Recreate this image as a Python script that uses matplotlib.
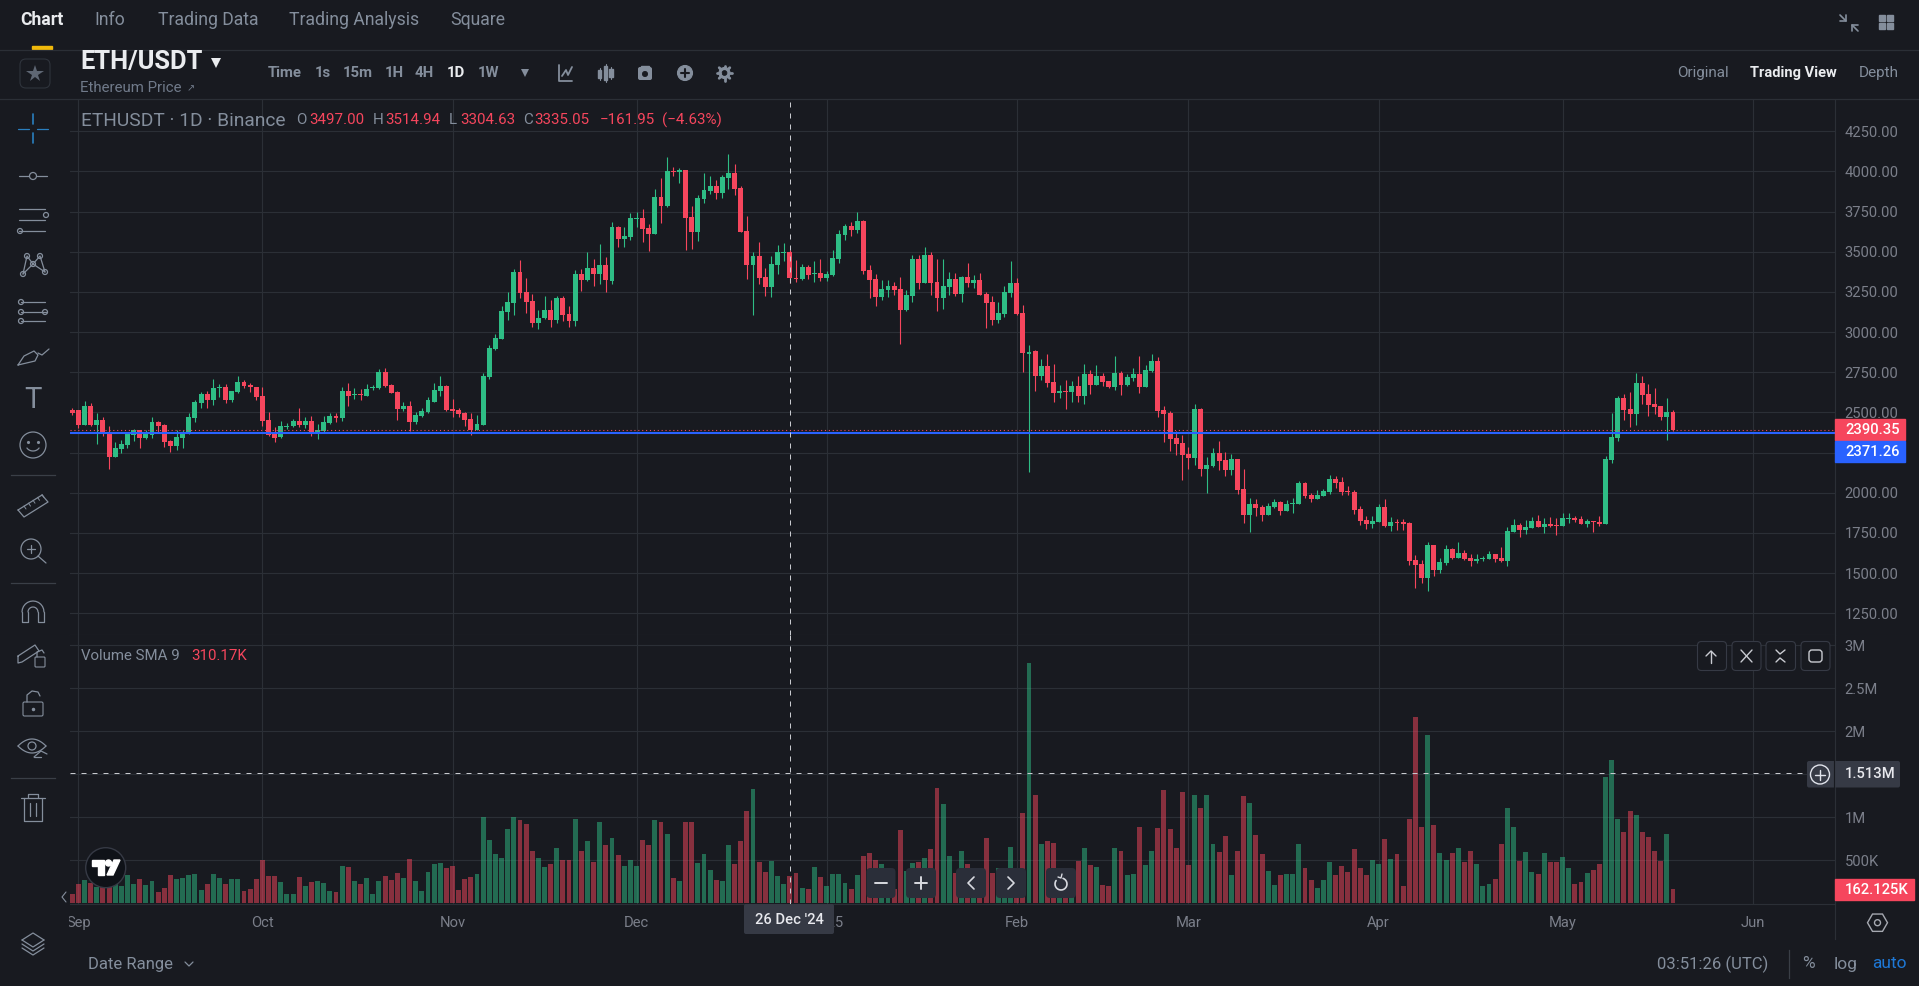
#!/usr/bin/env python3
"""ETH/USDT daily candles with volume, dark exchange chart layout."""

import matplotlib

matplotlib.use("Agg")

import matplotlib.dates as mdates
import matplotlib.patches as mpatches
import matplotlib.pyplot as plt
import numpy as np
import pandas as pd
from matplotlib.transforms import Bbox

plt.rcParams["font.family"] = ["Roboto", "DejaVu Sans"]

BG = "#181A20"
GRID = "#2B2F36"
GREY = "#848E9C"
AXIS_GREY = "#7B7F8A"
UP = "#2EBD85"
DOWN = "#F6465D"
BLUE = "#2962FF"
W, H = 1919, 986

first_day = "2024-08-31"

opens = [
    2514, 2515, 2421, 2540, 2421, 2452, 2369, 2223, 2273, 2298,
    2360, 2389, 2340, 2360, 2440, 2421, 2321, 2290, 2340, 2373,
    2467, 2560, 2614, 2577, 2654, 2658, 2577, 2629, 2691, 2673,
    2660, 2604, 2452, 2364, 2348, 2410, 2413, 2444, 2421, 2444,
    2364, 2385, 2436, 2477, 2465, 2633, 2608, 2612, 2604, 2650,
    2650, 2755, 2670, 2629, 2519, 2540, 2438, 2481, 2506, 2567,
    2633, 2664, 2521, 2515, 2498, 2458, 2394, 2421, 2719, 2894,
    2956, 3125, 3181, 3372, 3248, 3192, 3056, 3087, 3135, 3073,
    3210, 3110, 3067, 3360, 3323, 3398, 3360, 3417, 3321, 3652,
    3577, 3590, 3705, 3709, 3646, 3609,
    3840, 3785, 4005, 3998, 4008, 3715, 3622, 3828, 3880, 3909,
    3865, 3961, 3990, 3896, 3628, 3416, 3472, 3341, 3279, 3420,
    3493, 3497, 3335, 3330, 3403, 3364, 3368, 3335, 3354, 3454,
    3604, 3660, 3635, 3691, 3385, 3328, 3216, 3260, 3285, 3266,
    3135, 3223, 3454, 3304, 3479, 3310, 3210, 3279, 3329, 3235,
    3341, 3304, 3322, 3235, 3185, 3073, 3111, 3242, 3304, 3117,
    2867, 2880, 2727, 2789, 2690, 2623, 2634, 2627, 2665, 2602,
    2740, 2671, 2727, 2696, 2658, 2746, 2671, 2717, 2740, 2658,
    2759, 2823, 2515, 2496, 2340, 2308, 2240, 2214, 2521, 2146,
    2165, 2246, 2202, 2140, 2208,
    2021, 1860, 1928, 1910, 1860, 1910, 1941, 1885, 1930, 1930,
    2060, 1985, 1960, 1979, 2004, 2085, 2066, 2010, 2004, 1898,
    1829, 1804, 1817, 1910, 1792, 1819, 1817, 1811, 1580, 1555,
    1468, 1674, 1518, 1562, 1648, 1593, 1624, 1593, 1574, 1587,
    1587, 1618, 1593, 1574, 1755, 1798, 1767, 1780, 1823, 1786,
    1804, 1800, 1792, 1836, 1842, 1836, 1804, 1823, 1817, 1809,
    2204, 2340, 2590, 2521, 2490, 2683, 2615, 2552, 2540, 2471,
    2503,
]
highs = [
    2529, 2515, 2571, 2560, 2494, 2471, 2415, 2315, 2327, 2381,
    2400, 2394, 2394, 2471, 2448, 2427, 2327, 2394, 2390, 2498,
    2577, 2627, 2635, 2706, 2677, 2675, 2635, 2727, 2702, 2685,
    2660, 2660, 2500, 2410, 2444, 2436, 2458, 2525, 2469, 2477,
    2427, 2477, 2494, 2498, 2658, 2685, 2650, 2645, 2675, 2671,
    2768, 2775, 2677, 2633, 2565, 2571, 2506, 2525, 2598, 2683,
    2725, 2670, 2587, 2529, 2506, 2494, 2483, 2744, 2917, 2987,
    3160, 3248, 3390, 3447, 3337, 3240, 3135, 3223, 3198, 3227,
    3223, 3160, 3389, 3395, 3498, 3456, 3546, 3469, 3688, 3663,
    3652, 3740, 3750, 3765, 3671, 3890,
    3958, 4090, 4030, 4021, 4008, 3784, 3853, 3990, 3971, 3950,
    3978, 4109, 4046, 3909, 3722, 3500, 3560, 3401, 3472, 3541,
    3553, 3514, 3447, 3426, 3416, 3441, 3454, 3379, 3510, 3635,
    3672, 3684, 3747, 3697, 3416, 3360, 3322, 3322, 3310, 3341,
    3260, 3479, 3479, 3529, 3497, 3454, 3454, 3373, 3366, 3347,
    3429, 3354, 3366, 3252, 3223, 3185, 3285, 3441, 3335, 3167,
    2923, 2892, 2833, 2864, 2802, 2671, 2702, 2696, 2727, 2802,
    2765, 2796, 2746, 2696, 2852, 2758, 2740, 2777, 2852, 2796,
    2864, 2846, 2540, 2509, 2383, 2359, 2283, 2552, 2527, 2221,
    2277, 2321, 2252, 2240, 2212,
    2150, 1966, 1959, 1922, 1935, 1959, 1948, 1954, 1966, 2072,
    2066, 1998, 2017, 2023, 2110, 2104, 2097, 2042, 2017, 1917,
    1854, 1854, 1929, 1960, 1848, 1840, 1836, 1817, 1611, 1580,
    1693, 1674, 1593, 1674, 1654, 1693, 1643, 1618, 1618, 1605,
    1637, 1622, 1661, 1785, 1836, 1811, 1829, 1848, 1860, 1842,
    1848, 1842, 1873, 1873, 1854, 1854, 1836, 1823, 1854, 2229,
    2496, 2602, 2615, 2627, 2746, 2727, 2677, 2652, 2540, 2590,
    2515,
]
lows = [
    2487, 2404, 2421, 2415, 2306, 2356, 2151, 2223, 2248, 2279,
    2323, 2277, 2332, 2340, 2377, 2286, 2252, 2265, 2277, 2369,
    2442, 2531, 2529, 2548, 2598, 2560, 2566, 2623, 2650, 2625,
    2580, 2415, 2354, 2315, 2340, 2398, 2408, 2408, 2402, 2352,
    2335, 2379, 2431, 2440, 2448, 2540, 2585, 2577, 2604, 2637,
    2648, 2656, 2619, 2452, 2508, 2387, 2431, 2469, 2494, 2565,
    2604, 2510, 2473, 2473, 2415, 2360, 2390, 2421, 2706, 2892,
    2956, 3075, 3104, 3210, 3119, 3029, 3019, 3079, 3035, 3056,
    3069, 3032, 3036, 3258, 3317, 3285, 3300, 3248, 3302, 3533,
    3533, 3571, 3655, 3560, 3504, 3609,
    3680, 3780, 3971, 3929, 3510, 3515, 3566, 3805, 3859, 3828,
    3834, 3888, 3853, 3622, 3329, 3104, 3297, 3223, 3217, 3360,
    3441, 3304, 3310, 3322, 3329, 3310, 3316, 3316, 3352, 3429,
    3572, 3597, 3616, 3360, 3210, 3160, 3198, 3217, 3229, 2924,
    3129, 3185, 3267, 3304, 3229, 3129, 3142, 3229, 3223, 3185,
    3279, 3272, 3229, 3023, 3042, 3056, 3092, 3217, 3104, 2750,
    2129, 2634, 2702, 2658, 2565, 2590, 2521, 2565, 2565, 2552,
    2615, 2671, 2665, 2652, 2640, 2609, 2665, 2696, 2621, 2658,
    2752, 2473, 2315, 2258, 2233, 2077, 2146, 2171, 2102, 2000,
    2158, 2140, 2102, 2108, 1990,
    1811, 1755, 1854, 1823, 1860, 1904, 1860, 1885, 1873, 1930,
    1966, 1941, 1960, 1979, 1992, 2029, 1985, 1985, 1867, 1798,
    1773, 1779, 1817, 1786, 1761, 1767, 1767, 1549, 1405, 1440,
    1390, 1480, 1503, 1549, 1587, 1593, 1580, 1543, 1562, 1574,
    1587, 1568, 1568, 1543, 1755, 1723, 1742, 1780, 1786, 1748,
    1786, 1736, 1792, 1811, 1817, 1804, 1786, 1755, 1792, 1809,
    2185, 2322, 2453, 2409, 2422, 2552, 2478, 2490, 2453, 2328,
    2384,
]
closes = [
    2497, 2421, 2540, 2421, 2452, 2369, 2223, 2277, 2302, 2364,
    2389, 2340, 2364, 2440, 2415, 2317, 2290, 2348, 2377, 2471,
    2565, 2614, 2577, 2652, 2660, 2577, 2633, 2691, 2666, 2656,
    2598, 2448, 2360, 2344, 2415, 2418, 2444, 2421, 2444, 2364,
    2389, 2440, 2477, 2467, 2633, 2604, 2612, 2606, 2646, 2658,
    2755, 2664, 2621, 2521, 2540, 2440, 2483, 2510, 2575, 2642,
    2664, 2515, 2508, 2490, 2452, 2394, 2427, 2727, 2900, 2962,
    3130, 3185, 3372, 3244, 3188, 3056, 3090, 3135, 3073, 3210,
    3106, 3067, 3360, 3323, 3398, 3360, 3417, 3323, 3652, 3577,
    3598, 3709, 3709, 3640, 3609, 3840,
    3785, 4002, 3998, 4008, 3709, 3622, 3834, 3884, 3909, 3865,
    3965, 3990, 3890, 3622, 3416, 3472, 3335, 3279, 3422, 3497,
    3499, 3335, 3330, 3403, 3354, 3368, 3335, 3360, 3460, 3610,
    3660, 3635, 3691, 3379, 3322, 3216, 3266, 3285, 3260, 3135,
    3229, 3454, 3304, 3479, 3304, 3210, 3285, 3329, 3235, 3341,
    3304, 3322, 3229, 3179, 3073, 3117, 3248, 3304, 3111, 2868,
    2879, 2727, 2789, 2683, 2621, 2634, 2627, 2665, 2602, 2740,
    2671, 2727, 2690, 2658, 2746, 2671, 2721, 2740, 2658, 2765,
    2823, 2509, 2490, 2334, 2302, 2233, 2214, 2521, 2146, 2171,
    2246, 2196, 2140, 2208, 2015,
    1860, 1928, 1904, 1860, 1916, 1941, 1885, 1928, 1936, 2060,
    1979, 1960, 1985, 2010, 2085, 2060, 2004, 2004, 1892, 1823,
    1804, 1823, 1910, 1792, 1817, 1811, 1804, 1574, 1549, 1468,
    1674, 1518, 1568, 1648, 1593, 1624, 1587, 1574, 1587, 1593,
    1618, 1587, 1574, 1760, 1798, 1767, 1786, 1823, 1786, 1804,
    1796, 1794, 1842, 1842, 1829, 1804, 1823, 1817, 1809, 2210,
    2347, 2590, 2515, 2490, 2683, 2608, 2546, 2534, 2471, 2503,
    2390,
]
volumes_k = [
    109, 225, 271, 233, 194, 260, 194, 270, 202, 329,
    225, 283, 213, 260, 132, 178, 329, 283, 295, 329,
    341, 155, 225, 341, 295, 225, 283, 283, 143, 167,
    283, 504, 318, 318, 248, 109, 109, 306, 202, 248,
    260, 236, 143, 132, 434, 422, 260, 225, 295, 109,
    260, 318, 271, 353, 295, 516, 260, 143, 364, 457,
    469, 411, 434, 155, 283, 306, 341, 1000, 736, 574,
    527, 864, 1000, 969, 922, 609, 527, 422, 457, 643,
    504, 504, 981, 609, 725, 481, 946, 678, 760, 562,
    434, 504, 434, 736, 678, 969, 946, 806, 295, 260,
    946, 946, 469, 574, 388, 271, 260, 678, 457, 725,
    1074, 1329, 481, 364, 492, 318, 225, 318, 353, 178,
    167, 422, 306, 202, 341, 341, 236, 167, 329, 550,
    585, 504, 457, 155, 167, 853, 376, 469, 481, 527,
    632, 1341, 1155, 550, 353, 609, 457, 310, 349, 760,
    353, 411, 310, 655, 349, 1050, 2800, 1260, 690, 725,
    702, 271, 194, 233, 492, 643, 446, 422, 213, 202,
    643, 609, 329, 341, 888, 446, 609, 876, 1318, 864,
    643, 1295, 446, 1260, 1109, 1260, 690, 597, 783, 329,
    609, 1248, 1167, 795, 574, 376, 213, 329, 341, 341,
    690, 411, 271, 178, 271, 481, 329, 434, 364, 632,
    411, 329, 504, 457, 748, 516, 574, 202, 981, 2167,
    888, 1957, 911, 585, 504, 585, 643, 481, 609, 457,
    202, 225, 283, 690, 1109, 888, 492, 597, 364, 341,
    585, 481, 481, 539, 411, 225, 248, 353, 388, 457,
    1469, 1667, 981, 829, 1074, 1027, 829, 771, 609, 492,
    806, 162,
]

price_ticks = [1250, 1500, 1750, 2000, 2250, 2500, 2750, 3000, 3250, 3500, 3750, 4000, 4250]
volume_ticks = [500, 1000, 1500, 2000, 2500, 3000]
# the 1.5M label sits behind the crosshair tag in this view
volume_tick_labels = ["500K", "1M", "", "2M", "2.5M", "3M"]
month_days = ["2024-09-01", "2024-10-01", "2024-11-01", "2024-12-01", "2025-01-01",
              "2025-02-01", "2025-03-01", "2025-04-01", "2025-05-01", "2025-06-01"]
month_labels = ["Sep", "Oct", "Nov", "Dec", "2025", "Feb", "Mar", "Apr", "May", "Jun"]

last_price = 2390.35
open_price_line = 2371.26
crosshair_day = "2024-12-26"
crosshair_volume_k = 1513
last_volume_label = "162.125K"


def pane_axes(fig, top, bottom):
    ax = fig.add_axes([70 / W, 1 - bottom / H, (1835 - 70) / W, (bottom - top) / H])
    ax.set_facecolor(BG)
    for side, spine in ax.spines.items():
        spine.set_visible(side in ("right", "bottom"))
        spine.set_color(GRID)
        spine.set_linewidth(0.8)
    ax.yaxis.tick_right()
    ax.tick_params(axis="y", length=0, pad=7, labelcolor=AXIS_GREY, labelsize=10.6)
    ax.tick_params(axis="x", length=0, pad=8.5, labelcolor=AXIS_GREY, labelsize=10.6)
    ax.grid(True, color=GRID, linewidth=0.8)
    ax.set_axisbelow(True)
    return ax


def label(ui, x, y, text, color=GREY, size=10.0, weight="normal", ha="left"):
    return ui.text(x, y, text, color=color, fontsize=size, fontweight=weight, ha=ha, va="center")


def stroke(ui, xs, ys, color="#848E9C", lw=0.9):
    ui.plot(xs, ys, color=color, lw=lw, solid_capstyle="round", solid_joinstyle="round")


def ring(ui, x, y, r, color="#848E9C", lw=0.9, fill="none"):
    ui.add_patch(mpatches.Circle((x, y), r, facecolor=fill, edgecolor=color, lw=lw))


def rounded(ui, x0, y0, x1, y1, face, edge="none", lw=0.8, radius=4):
    ui.add_patch(mpatches.FancyBboxPatch(
        (x0 + radius, y0 + radius), x1 - x0 - 2 * radius, y1 - y0 - 2 * radius,
        boxstyle=f"round,pad={radius},rounding_size={radius}", facecolor=face, edgecolor=edge, lw=lw))


def draw_toolbar(ui):
    cx = 33
    stroke(ui, [cx - 15, cx - 4], [128.5, 128.5], "#2A7FBF")
    stroke(ui, [cx + 4, cx + 15], [128.5, 128.5], "#2A7FBF")
    stroke(ui, [cx, cx], [114, 124], "#2A7FBF", 1.2)
    stroke(ui, [cx, cx], [133, 143], "#2A7FBF", 1.2)

    stroke(ui, [cx - 14, cx - 4], [176, 176])
    stroke(ui, [cx + 4, cx + 14], [176, 176])
    ring(ui, cx, 176, 3.5)

    for yy in (209, 220, 231):
        stroke(ui, [cx - 14, cx + 12], [yy, yy])
    ring(ui, cx + 13, 215, 2.5, fill=BG)
    ring(ui, cx - 13, 231, 2.5, fill=BG)

    stroke(ui, [cx - 10, cx - 6, cx, cx + 7, cx + 12], [274, 256, 264, 256, 272])
    stroke(ui, [cx - 10, cx, cx + 12], [274, 264, 272])
    for px, py in ((-10, 274), (-6, 256), (0, 264), (7, 256), (12, 272)):
        ring(ui, cx + px, py, 2.5, fill=BG)

    for yy, x_left, x_right in ((302, -12, 12), (312, -12, 14), (321, -12, 12)):
        stroke(ui, [cx + x_left, cx + x_right], [yy, yy])
        ring(ui, cx + x_left, yy, 2.5, fill=BG)
    ring(ui, cx + 12, 312, 2.5, fill=BG)

    stroke(ui, [cx - 15, cx - 9, cx + 1, cx + 5, cx + 2, cx - 15], [365, 356, 351, 355, 361, 365])
    stroke(ui, [cx + 5, cx + 9, cx + 16], [353, 355, 349])

    label(ui, cx, 400, "T", "#848E9C", 21, ha="center")

    ring(ui, cx, 445, 13)
    ui.plot([cx - 5, cx + 5], [442, 442], ".", color="#848E9C", ms=2.5)
    angle = np.radians(np.arange(30, 151, 10))
    stroke(ui, cx + 7 * np.cos(angle), 445 + 6 * np.sin(angle))

    stroke(ui, [cx - 15, cx + 9, cx + 15, cx - 9, cx - 15], [510, 495, 502, 517, 510])
    for step in range(5):
        x0 = cx - 9 + step * 4.5
        y0 = 506 - step * 2.9
        stroke(ui, [x0, x0 + 2], [y0, y0 + 3], lw=0.7)

    ring(ui, cx - 2, 549, 10)
    stroke(ui, [cx + 5, cx + 13], [556, 563])
    stroke(ui, [cx - 6, cx + 2], [549, 549])
    stroke(ui, [cx - 2, cx - 2], [545, 553])

    arc = np.radians(np.arange(180, 361, 15))
    stroke(ui, cx + 11 * np.cos(arc), 612 + 11 * np.sin(arc))
    stroke(ui, cx + 5 * np.cos(arc), 612 + 5 * np.sin(arc))
    stroke(ui, [cx - 11, cx - 11, cx - 5, cx - 5], [612, 622, 622, 612])
    stroke(ui, [cx + 11, cx + 11, cx + 5, cx + 5], [612, 622, 622, 612])

    stroke(ui, [cx - 15, cx + 2, cx + 6, cx - 11, cx - 15, cx - 15], [656, 645, 651, 662, 663, 656])
    rounded(ui, cx + 2, 657, cx + 12, 667, "none", "#848E9C", radius=1)
    stroke(ui, [cx + 4, cx + 4, cx + 9, cx + 11], [657, 652, 650, 653])

    rounded(ui, cx - 10, 702, cx + 10, 716, "none", "#848E9C", radius=1.5)
    ui.plot([cx], [709], ".", color="#848E9C", ms=3)
    stroke(ui, [cx - 6, cx - 6, cx - 1, cx + 5, cx + 7], [702, 695, 691, 692, 696])

    eye = np.linspace(-1, 1, 21)
    stroke(ui, cx - 1 + 14 * eye, 746 - 7 * (1 - eye ** 2))
    stroke(ui, cx - 1 + 14 * eye, 746 + 7 * (1 - eye ** 2))
    ring(ui, cx - 1, 746, 4)
    stroke(ui, [cx + 1, cx + 8, cx + 14], [757, 751, 754])
    stroke(ui, [cx + 1, cx + 8], [757, 757])

    stroke(ui, [cx - 12, cx + 12], [798, 798])
    stroke(ui, [cx - 5, cx - 5, cx + 5, cx + 5], [798, 794, 794, 798])
    stroke(ui, [cx - 9, cx - 9, cx + 9, cx + 9], [798, 821, 821, 798])
    stroke(ui, [cx - 3, cx - 3], [803, 816])
    stroke(ui, [cx + 3, cx + 3], [803, 816])

    for yy in (475, 583, 778):
        ui.plot([11, 55], [yy, yy], color="#3A3F47", lw=0.9)

    stroke(ui, [66, 62, 66], [892, 897, 902], lw=0.8)
    for yy in (940, 944, 948):
        stroke(ui, [cx - 11, cx, cx + 11], [yy, yy + 7, yy])
    stroke(ui, [cx - 11, cx, cx + 11], [940, 933, 940])


def draw_header(ui):
    ui.plot([0, W], [49.7, 49.7], color=GRID, lw=0.9)
    ui.plot([0, W], [99, 99], color=GRID, lw=0.9)
    ui.add_patch(mpatches.Rectangle((32, 46), 20, 3, color="#F0B90B"))

    label(ui, 20, 20, "Chart", "#EAECEF", 12.7, "bold")
    for x, text in ((94, "Info"), (158, "Trading Data"), (289, "Trading Analysis"), (450, "Square")):
        label(ui, x, 20, text, GREY, 12.7)

    rounded(ui, 20, 59, 50, 88, "none", "#2F343C", radius=6)
    ui.plot([35], [73.5], marker="*", ms=13, color="#5E6673", mew=0)

    label(ui, 80, 62, "ETH/USDT", "#EAECEF", 18.4, "bold")
    ui.plot([216], [63], marker="v", ms=7, color="#EAECEF", mew=0)
    label(ui, 80.5, 88, "Ethereum Price", "#707A8A", 10.8)
    label(ui, 187, 88, "↗", "#707A8A", 7)

    for x, text, color in ((268, "Time", GREY), (315, "1s", GREY), (343, "15m", GREY), (385, "1H", GREY),
                           (415, "4H", GREY), (447, "1D", "#EAECEF"), (478, "1W", GREY)):
        label(ui, x, 73, text, color, 10.7, "bold")
    ui.plot([525], [73], marker="v", ms=6, color=GREY, mew=0)

    stroke(ui, [559, 559, 572], [65, 81, 81], GREY, 1.3)
    stroke(ui, [562, 566, 568, 572], [76, 70, 75, 67], GREY, 1.3)
    for x, y0, y1 in ((599.5, 70, 78), (605.5, 66, 80), (611, 69, 77)):
        ui.add_patch(mpatches.Rectangle((x - 1.8, y0), 3.6, y1 - y0, color=GREY))
        stroke(ui, [x, x], [y0 - 2, y1 + 2], GREY, 0.8)
    rounded(ui, 638, 67, 652, 80, GREY, radius=2)
    ui.add_patch(mpatches.Rectangle((641, 65.5), 8, 3, color=GREY))
    ring(ui, 645, 74, 2.6, BG, 0.6, BG)
    ring(ui, 685, 73, 7.5, GREY, 0.8, GREY)
    stroke(ui, [681, 689], [73, 73], BG, 1.5)
    stroke(ui, [685, 685], [69, 77], BG, 1.5)
    ring(ui, 724.5, 73, 5.5, GREY, 0.8, GREY)
    for tooth in np.radians(np.arange(0, 360, 45)):
        stroke(ui, [724.5 + 5 * np.cos(tooth), 724.5 + 7.5 * np.cos(tooth)],
               [73 + 5 * np.sin(tooth), 73 + 7.5 * np.sin(tooth)], GREY, 2)
    ring(ui, 724.5, 73, 2.4, BG, 0.6, BG)

    label(ui, 1677, 73, "Original", GREY, 11)
    label(ui, 1750, 73, "Trading View", "#EAECEF", 10.5, "bold")
    label(ui, 1859, 73, "Depth", GREY, 11)

    stroke(ui, [1840, 1846, 1846], [21, 21, 15], GREY, 1.2)
    stroke(ui, [1846, 1840], [21, 15], GREY, 1.2)
    stroke(ui, [1852, 1852, 1858], [31, 25, 25], GREY, 1.2)
    stroke(ui, [1852, 1858], [25, 31], GREY, 1.2)
    for x, y in ((1879, 15), (1887, 15), (1879, 23), (1887, 23)):
        ui.add_patch(mpatches.Rectangle((x, y), 6, 6, color=GREY))


def draw_chart_overlay(ui):
    # Legend line above the candles
    label(ui, 81, 120.5, "ETHUSDT · 1D · Binance", GREY, 13.8)
    for x, text, color in ((296, "O", GREY), (309, "3497.00", DOWN), (373, "H", GREY), (385, "3514.94", DOWN),
                           (449, "L", GREY), (460, "3304.63", DOWN), (523, "C", GREY), (534, "3335.05", DOWN),
                           (600, "−161.95", DOWN), (662, "(−4.63%)", DOWN)):
        label(ui, x, 120.5, text, color, 10.9)
    label(ui, 81, 656, "Volume SMA 9", GREY, 10.8)
    label(ui, 191, 656, "310.17K", DOWN, 10.8)

    # Price tags
    ui.add_patch(mpatches.Rectangle((1835, 419), 70, 21, color=DOWN))
    label(ui, 1845, 429.5, "2390.35", "#FFFFFF", 10.6, "medium")
    ui.add_patch(mpatches.Rectangle((1835, 441), 70, 21, color=BLUE))
    label(ui, 1845, 451.5, "2371.26", "#FFFFFF", 10.6, "medium")

    ui.add_patch(mpatches.Rectangle((1835, 879), 79, 21, color=DOWN))
    label(ui, 1845, 889.5, last_volume_label, "#FFFFFF", 10.6, "medium")

    # Crosshair tags
    rounded(ui, 1807, 761, 1900, 787.5, "#363A45", radius=2)
    ring(ui, 1820, 774.5, 9.5, "#E0E3EB", 1.0)
    stroke(ui, [1815, 1825], [774.5, 774.5], "#E0E3EB", 1)
    stroke(ui, [1820, 1820], [769.5, 779.5], "#E0E3EB", 1)
    ui.plot([1834, 1834], [761, 787.5], color=BG, lw=0.8)
    label(ui, 1845, 774.5, "1.513M", "#E8E9EE", 10.6, "medium")

    rounded(ui, 744, 904, 834, 934, "#363A45", radius=2)
    label(ui, 789, 919.5, "26 Dec '24", "#E8E9EE", 10.6, "medium", ha="center")

    # Pane buttons
    for x0, x1 in ((1697.5, 1726.5), (1732, 1761), (1766, 1795.5), (1801, 1830)):
        rounded(ui, x0, 641.5, x1, 670.5, BG, "#363A45", radius=4)
    stroke(ui, [1711, 1711], [663, 651], "#C9CBD1", 1)
    stroke(ui, [1706, 1711, 1716], [656, 651, 656], "#C9CBD1", 1)
    stroke(ui, [1741, 1752], [650, 662], "#C9CBD1", 1)
    stroke(ui, [1752, 1741], [650, 662], "#C9CBD1", 1)
    stroke(ui, [1776, 1780, 1785], [650, 654, 650], "#C9CBD1", 1)
    stroke(ui, [1776, 1780, 1785], [662, 658, 662], "#C9CBD1", 1)
    rounded(ui, 1809, 650, 1822, 662, "none", "#C9CBD1", lw=1, radius=3)

    # Zoom and pan buttons over the volume bars
    for x0, x1 in ((866.5, 895.5), (906, 936), (956, 986), (996, 1026), (1046, 1076)):
        rounded(ui, x0, 868, x1, 898, "#2A2E39", radius=4)
    stroke(ui, [875, 887], [883, 883], "#D8DAE0", 1.4)
    stroke(ui, [915, 927], [883, 883], "#D8DAE0", 1.4)
    stroke(ui, [921, 921], [877, 889], "#D8DAE0", 1.4)
    stroke(ui, [974, 968, 974], [877, 883, 889], "#D8DAE0", 1.2)
    stroke(ui, [1008, 1014, 1008], [877, 883, 889], "#D8DAE0", 1.2)
    turn = np.radians(np.arange(-70, 221, 15))
    stroke(ui, 1061 + 6 * np.cos(turn), 884 + 6 * np.sin(turn), "#D8DAE0", 1.2)
    stroke(ui, [1058, 1061, 1062], [877, 878, 874], "#D8DAE0", 1)

    # Logo badge
    ring(ui, 105.7, 867.7, 20, "#363A45", 1.0, "#0F1218")
    ui.add_patch(mpatches.Polygon([[92, 860], [104, 860], [104, 875], [98, 875], [98, 866], [92, 866]], color="white"))
    ui.add_patch(mpatches.Circle((108.5, 863), 3, color="white"))
    ui.add_patch(mpatches.Polygon([[114, 860], [120, 860], [113, 875], [107, 875]], color="white"))

    # Settings hexagon in the axis corner
    ui.add_patch(mpatches.RegularPolygon((1877.5, 922.7), 6, radius=10, orientation=np.pi / 6,
                                         facecolor="none", edgecolor="#A6A9B1", lw=1))
    ring(ui, 1877.5, 922.7, 3, "#A6A9B1", 1)


def draw_footer(ui):
    label(ui, 88, 964, "Date Range", GREY, 12)
    stroke(ui, [185, 189, 193], [962, 966, 962], GREY, 0.9)
    label(ui, 1657, 964, "03:51:26 (UTC)", GREY, 12)
    ui.plot([1788.7, 1788.7], [950, 978], color="#3A3F47", lw=0.9)
    label(ui, 1802, 964, "%", GREY, 12.5)
    label(ui, 1834, 964, "log", GREY, 12.5)
    label(ui, 1872, 964, "auto", "#1E78D6", 12.5)


days = pd.date_range(first_day, periods=len(closes), freq="D")
x = mdates.date2num(days)
o, h, l, c = map(np.array, (opens, highs, lows, closes))
rising = c >= o
colors = np.where(rising, UP, DOWN)

fig = plt.figure(figsize=(W / 100, H / 100), dpi=100, facecolor=BG)
ax_price = pane_axes(fig, 100, 635)
ax_volume = pane_axes(fig, 635, 904)

# 1 pixel is 1/6.133 of a day on this chart
x0 = mdates.datestr2num("2024-09-01")
x_limits = (x0 - 8.4 / 6.133, x0 + (1835 - 78.4) / 6.133)

ax_price.vlines(x, l, h, colors=colors, linewidth=0.8, zorder=3)
ax_price.bar(x, np.abs(c - o), bottom=np.minimum(o, c), width=0.8, color=colors, zorder=4, linewidth=0)
ax_price.axhline(last_price, color=DOWN, lw=0.8, ls=(0, (1, 2.5)), zorder=5)
ax_price.axhline(open_price_line, color=BLUE, lw=1.5, zorder=5)
ax_price.set_xlim(x_limits)
ax_price.set_ylim(1115, 4445)
ax_price.set_yticks(price_ticks, [f"{tick:.2f}" for tick in price_ticks])
ax_price.set_xticks(mdates.datestr2num(month_days))
ax_price.tick_params(axis="x", labelbottom=False)

ax_volume.bar(x, volumes_k, width=0.8, color=colors, alpha=0.5, linewidth=0, zorder=3)
ax_volume.set_xlim(x_limits)
ax_volume.set_ylim(-9, 3120)
ax_volume.set_yticks(volume_ticks, volume_tick_labels)
ax_volume.set_xticks(mdates.datestr2num(month_days), month_labels)
for tick_label in ax_volume.get_xticklabels():
    tick_label.set_clip_box(Bbox([[69, 0], [W, H]]))
    tick_label.set_clip_on(True)

crosshair_x = mdates.datestr2num(crosshair_day)
for ax in (ax_price, ax_volume):
    ax.axvline(crosshair_x, color="#C8CACF", lw=0.72, dashes=(5, 6), zorder=6)
ax_volume.plot([x_limits[0], x0 + (1807 - 78.4) / 6.133], [crosshair_volume_k] * 2,
               color="#C8CACF", lw=0.72, dashes=(5, 6), zorder=6)

ui = fig.add_axes([0, 0, 1, 1], zorder=10)
ui.axis("off")
ui.patch.set_alpha(0)
ui.plot([1835, 1835], [904, 938.5], color=GRID, lw=0.8)
draw_header(ui)
draw_toolbar(ui)
draw_chart_overlay(ui)
draw_footer(ui)
ui.set_xlim(0, W)
ui.set_ylim(H, 0)

fig.savefig("out.png", dpi=100, facecolor=BG)
